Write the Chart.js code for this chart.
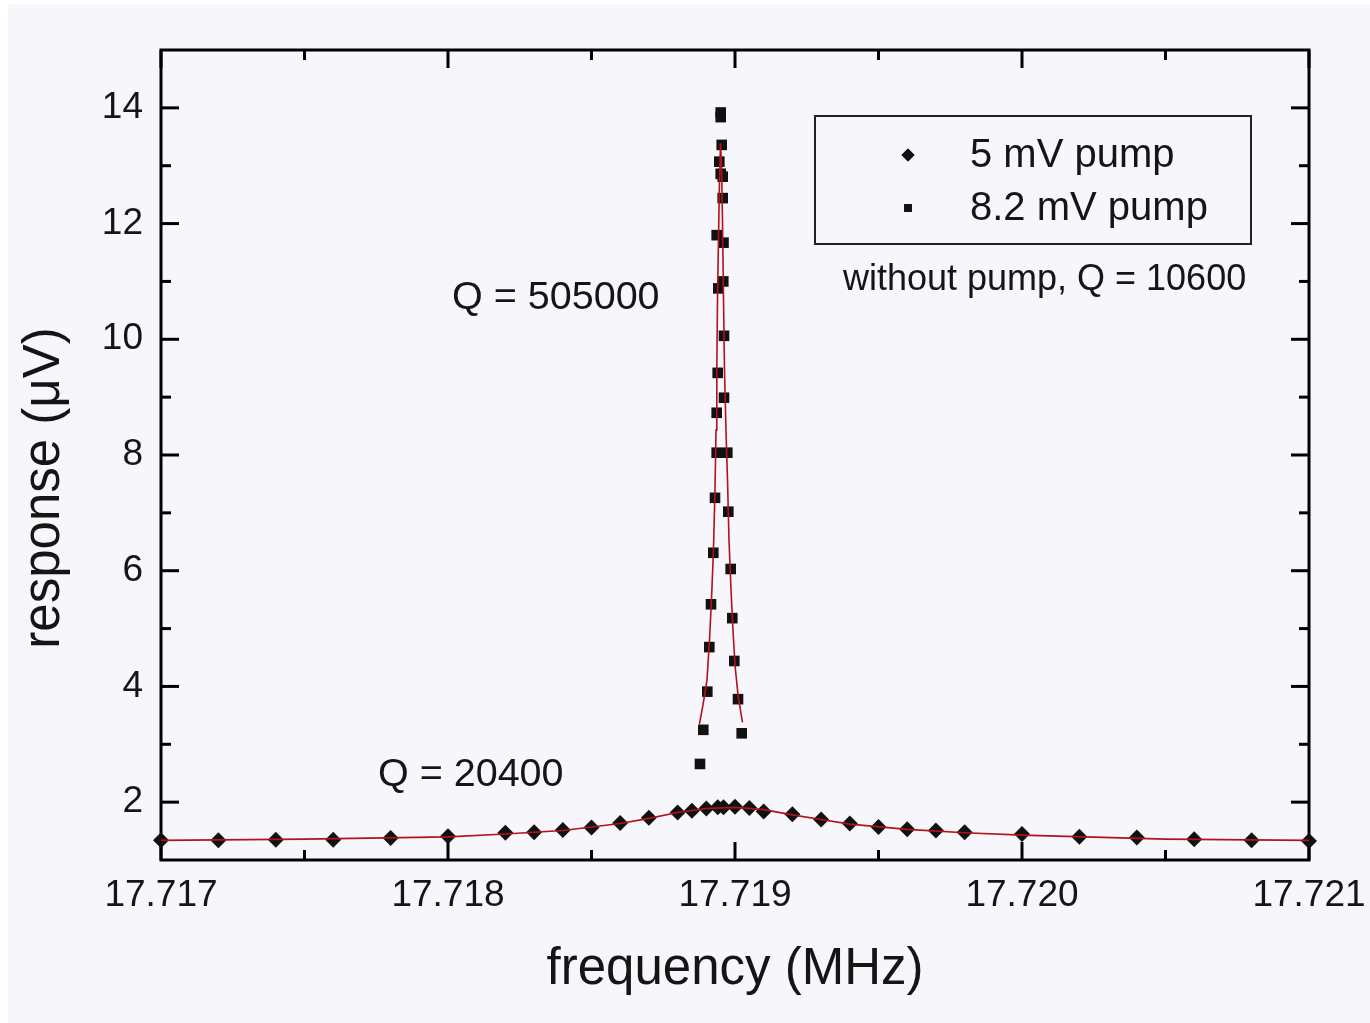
<!DOCTYPE html>
<html><head><meta charset="utf-8">
<script src="https://cdn.jsdelivr.net/npm/chart.js@4/dist/chart.umd.min.js"></script>
<style>html,body{margin:0;padding:0;background:#fff;} canvas{display:block;}</style>
</head><body>
<canvas id="c" width="1370" height="1023"></canvas>
<script>
// ---- data ----
const freq5mV = [17.7170,17.7172,17.7174,17.7176,17.7178,17.7180,17.7182,17.7183,17.7184,17.7185,17.7186,17.7187,17.7188,17.71885,17.7189,17.71894,17.71896,17.7190,17.71905,17.7191,17.7192,17.7193,17.7194,17.7195,17.7196,17.7197,17.7198,17.7200,17.7202,17.7204,17.7206,17.7208,17.7210];
const resp5mV = [1.34,1.34,1.35,1.35,1.38,1.41,1.47,1.48,1.52,1.56,1.64,1.73,1.82,1.85,1.89,1.91,1.91,1.92,1.90,1.84,1.79,1.70,1.63,1.57,1.53,1.51,1.48,1.45,1.40,1.39,1.36,1.34,1.33];
const freq82mV = [17.718878,17.7188895,17.7189035,17.7189104,17.7189164,17.7189244,17.7189303,17.7189362,17.7189362,17.7189362,17.7189397,17.7189418,17.7189453,17.7189502,17.7189502,17.7189502,17.7189537,17.7189571,17.7189571,17.7189592,17.7189599,17.7189617,17.7189617,17.7189732,17.7189767,17.718985,17.7189906,17.7189976,17.7190105,17.7190233];
const resp82mV = [2.66,3.25,3.91,4.68,5.42,6.31,7.26,8.04,8.73,11.80,9.42,10.88,13.07,13.92,13.84,12.86,13.36,12.81,12.44,11.00,11.67,10.06,8.99,8.04,7.02,6.03,5.18,4.44,3.78,3.19];
const fitNarrowFreq = [17.718876,17.7188885,17.7189024,17.7189111,17.718918,17.718925,17.7189303,17.7189338,17.7189366,17.718939,17.7189425,17.718946,17.7189495,17.718953,17.7189564,17.71896,17.7189634,17.7189686,17.7189739,17.7189791,17.7189861,17.718993,17.719,17.7190105,17.7190261];
const fitNarrowResp = [3.35,3.68,4.11,4.80,5.49,6.36,7.40,8.43,9.47,10.68,11.72,12.75,13.39,13.01,12.06,10.68,9.47,8.43,7.57,6.53,5.67,4.97,4.37,3.85,3.38];
const fitBroadFreq = [17.7170,17.7175,17.7180,17.7182,17.7184,17.7186,17.7187,17.7188,17.7189,17.7190,17.7191,17.7192,17.7193,17.7194,17.7196,17.7198,17.7200,17.7205,17.7210];
const fitBroadResp = [1.34,1.36,1.40,1.45,1.51,1.63,1.72,1.82,1.89,1.91,1.87,1.78,1.70,1.62,1.53,1.47,1.43,1.36,1.34];
const xTickValues = [17.717,17.718,17.719,17.720,17.721];
const xMinorValues = [17.7175,17.7185,17.7195,17.7205];
const yTickValues = [2,4,6,8,10,12,14];
const yMinorValues = [3,5,7,9,11,13];
const seriesLabels = ['5 mV pump','8.2 mV pump'];
const xTitle = 'frequency (MHz)';
const yTitle = 'response (\u03bcV)';
const annotationTexts = ['Q = 505000','Q = 20400','without pump, Q = 10600'];
const annotationX = [17.718014,17.717756,17.719376];
const annotationY = [10.71,2.47,11.03];

const FONT = '"Liberation Sans", Arial, Helvetica, sans-serif';
const INK = '#151515';
const BG = '#f7f7fb';
const FIT = '#b3121c';
const pairs = (xs, ys) => xs.map((x, i) => ({x: x, y: ys[i]}));

const bgPlugin = {
  id: 'bg',
  beforeDraw(chart) {
    const ctx = chart.ctx;
    ctx.save();
    ctx.fillStyle = '#ffffff';
    ctx.fillRect(0, 0, chart.width, chart.height);
    ctx.fillStyle = BG;
    ctx.fillRect(8, 4, chart.width - 8, chart.height - 4);
    ctx.restore();
  }
};

const framePlugin = {
  id: 'frame',
  beforeDatasetsDraw(chart) {
    const ctx = chart.ctx, a = chart.chartArea;
    const xs = chart.scales.x, ys = chart.scales.y;
    ctx.save();
    ctx.strokeStyle = '#000';
    ctx.lineWidth = 3;
    ctx.lineCap = 'butt';
    const tick = (x1, y1, x2, y2) => { ctx.beginPath(); ctx.moveTo(x1, y1); ctx.lineTo(x2, y2); ctx.stroke(); };
    const MAJ = 18, MIN = 10;
    xTickValues.forEach(v => { const p = xs.getPixelForValue(v); tick(p, a.bottom, p, a.bottom - MAJ); tick(p, a.top, p, a.top + MAJ); });
    xMinorValues.forEach(v => { const p = xs.getPixelForValue(v); tick(p, a.bottom, p, a.bottom - MIN); tick(p, a.top, p, a.top + MIN); });
    yTickValues.forEach(v => { const p = ys.getPixelForValue(v); tick(a.left, p, a.left + MAJ, p); tick(a.right, p, a.right - MAJ, p); });
    yMinorValues.forEach(v => { const p = ys.getPixelForValue(v); tick(a.left, p, a.left + MIN, p); tick(a.right, p, a.right - MIN, p); });
    ctx.strokeRect(a.left, a.top, a.right - a.left, a.bottom - a.top);
    ctx.restore();
  }
};

const textPlugin = {
  id: 'texts',
  afterDraw(chart) {
    const ctx = chart.ctx, a = chart.chartArea;
    const xs = chart.scales.x, ys = chart.scales.y;
    ctx.save();
    ctx.fillStyle = INK;
    // axis titles
    ctx.font = '51px ' + FONT;
    ctx.textAlign = 'center';
    ctx.textBaseline = 'middle';
    ctx.fillText(xs.options.title.text, (a.left + a.right) / 2, 970);
    ctx.save();
    ctx.translate(45, 488);
    ctx.rotate(-Math.PI / 2);
    ctx.fillText(ys.options.title.text, 0, 0);
    ctx.restore();
    // annotations
    ctx.textAlign = 'left';
    annotationTexts.forEach((t, i) => {
      ctx.font = (i === 2 ? '36px ' : '39.5px ') + FONT;
      ctx.fillText(t, xs.getPixelForValue(annotationX[i]), ys.getPixelForValue(annotationY[i]));
    });
    // legend box
    const lx = a.left + 654, ly = a.top + 66, lw = 436, lh = 128;
    ctx.strokeStyle = '#222';
    ctx.lineWidth = 2;
    ctx.strokeRect(lx, ly, lw, lh);
    const ds = chart.data.datasets;
    ctx.font = '40px ' + FONT;
    [0, 1].forEach(i => {
      const cy = ly + 39 + i * 53;
      const d = ds[i];
      Chart.helpers.drawPoint(ctx, {pointStyle: d.pointStyle, radius: i === 0 ? 6.5 : 5.5, rotation: 0, borderWidth: 0}, lx + 93, cy);
      ctx.fillStyle = '#111';
      ctx.fill();
      ctx.fillStyle = INK;
      ctx.fillText(d.label, lx + 155, cy + 1);
    });
    ctx.restore();
  }
};

new Chart(document.getElementById('c'), {
  type: 'scatter',
  data: {
    datasets: [
      {label: seriesLabels[0], data: pairs(freq5mV, resp5mV), pointStyle: 'rectRot', pointRadius: 8, pointBackgroundColor: '#111', pointBorderColor: '#111', pointBorderWidth: 0, showLine: false, order: 2, clip: false},
      {label: seriesLabels[1], data: pairs(freq82mV, resp82mV), pointStyle: 'rect', pointRadius: 7.5, pointBackgroundColor: '#111', pointBorderColor: '#111', pointBorderWidth: 0, showLine: false, order: 2, clip: false},
      {label: 'fit narrow', data: pairs(fitNarrowFreq, fitNarrowResp), showLine: true, pointRadius: 0, borderColor: FIT, borderWidth: 1.6, fill: false, order: 1, clip: false},
      {label: 'fit broad', data: pairs(fitBroadFreq, fitBroadResp), showLine: true, pointRadius: 0, borderColor: FIT, borderWidth: 1.6, fill: false, order: 1, clip: false}
    ]
  },
  options: {
    responsive: false,
    animation: false,
    devicePixelRatio: 1,
    layout: {padding: {left: 0, top: 50, right: 61, bottom: 0}},
    plugins: {legend: {display: false}, tooltip: {enabled: false}},
    scales: {
      x: {
        type: 'linear', position: 'bottom', min: 17.717, max: 17.721,
        afterBuildTicks: s => { s.ticks = xTickValues.map(v => ({value: v})); },
        afterFit: s => { s.height = 163; s.paddingLeft = 0; s.paddingRight = 0; },
        ticks: {callback: v => v.toFixed(3), font: {size: 37, family: FONT}, color: INK, padding: 14, maxRotation: 0, autoSkip: false},
        grid: {display: false, drawTicks: false},
        border: {display: false},
        title: {display: false, text: xTitle}
      },
      y: {
        type: 'linear', position: 'left', min: 1, max: 15,
        afterBuildTicks: s => { s.ticks = yTickValues.map(v => ({value: v})); },
        afterFit: s => { s.width = 161; s.paddingTop = 0; s.paddingBottom = 0; },
        ticks: {font: {size: 37, family: FONT}, color: INK, padding: 18},
        grid: {display: false, drawTicks: false},
        border: {display: false},
        title: {display: false, text: yTitle}
      }
    }
  },
  plugins: [bgPlugin, framePlugin, textPlugin]
});
</script>
</body></html>
